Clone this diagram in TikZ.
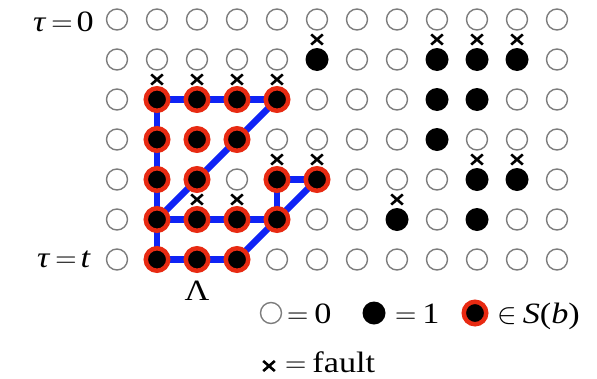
\documentclass[tikz,border=0pt]{standalone}
\usepackage{graphicx}
\usepackage{fontspec}
\setmainfont{Liberation Serif}[FakeStretch=1.16]
\newfontfamily\lmfont{Latin Modern Roman}
\usetikzlibrary{backgrounds,shapes.misc}
\definecolor{ringred}{RGB}{232,42,18}
\definecolor{lineblue}{RGB}{15,35,245}
\definecolor{emptygray}{RGB}{125,125,125}
\newcommand{\eqsign}{\hspace{5pt}{\lmfont =}\hspace{4pt}}
\newcommand{\eqlead}{{\lmfont =}\hspace{6pt}}
\begin{document}
\begin{tikzpicture}[x=1pt,y=-1pt,
  ste/.style={circle,draw=emptygray,line width=1.4pt,fill=white,minimum size=21pt,inner sep=0pt},
  sto/.style={circle,fill=black,minimum size=23pt,inner sep=0pt},
  sts/.style={circle,fill=black,draw=ringred,line width=4.5pt,minimum size=22.5pt,inner sep=0pt},
  fault/.style={cross out,draw=black,line width=2.6pt,minimum width=9pt,minimum height=7.5pt,inner sep=0pt},
  link/.style={draw=lineblue,line width=6.5pt},
  lbl/.style={font=\fontsize{29.5}{32}\selectfont,inner sep=0pt}
]
\useasboundingbox (0,0) rectangle (597,378);
% grid
\foreach \row [count=\r from 0] in {
  {e,e,e,e,e,e,e,e,e,e,e,e},
  {e,e,e,e,e,o,e,e,o,o,o,e},
  {e,s,s,s,s,e,e,e,o,o,e,e},
  {e,s,s,s,e,e,e,e,o,e,e,e},
  {e,s,s,e,s,s,e,e,e,o,o,e},
  {e,s,s,s,s,e,e,o,e,o,e,e},
  {e,s,s,s,e,e,e,e,e,e,e,e}} {
  \foreach \s [count=\c from 0] in \row {
    \node[st\s] (n-\c-\r) at ({117+40*\c},{19.5+40*\r}) {};
  }
}
% faults
\foreach \c/\r in {5/1,8/1,9/1,10/1,1/2,2/2,3/2,4/2,4/4,5/4,9/4,10/4,2/5,3/5,7/5} {
  \node[fault] (x-\c-\r) at ({117+40*\c},{19.5+40*\r-20}) {};
}
% links
\begin{scope}[on background layer]
\foreach \a/\b in {1-2/2-2,2-2/3-2,3-2/4-2,4-2/3-3,3-3/2-4,2-4/1-5,
  1-2/1-3,1-3/1-4,1-4/1-5,1-5/1-6,1-5/2-5,2-5/3-5,3-5/4-5,
  1-6/2-6,2-6/3-6,3-6/4-5,4-5/4-4,4-4/5-4,5-4/4-5} {
  \draw[link] (n-\a.center) -- (n-\b.center);
}
\end{scope}
% labels
\node[lbl,anchor=base east] (t0) at (94,31.5) {\textit{τ}\eqsign 0};
\node[lbl,anchor=base east] (tt) at (91,267) {\textit{τ}\eqsign\textit{t}};
\node[lbl,anchor=base] (lam) at (197,300) {Λ};
% legend
\node[ste] (le) at (271,313) {};
\node[lbl,anchor=base west] (l0) at (287,323) {\eqlead 0};
\node[sto] (lo) at (374,313) {};
\node[lbl,anchor=base west] (l1) at (395,323) {\eqlead 1};
\node[sts] (ls) at (475,313) {};
\node[lbl,anchor=base west] (lS) at (497,323) {\scalebox{1.18}{$\in$}\hspace{6pt}\textit{S}(\textit{b})};
\node[fault] (lx) at (269,366) {};
\node[lbl,anchor=base west] (lf) at (285,372) {\eqlead fault};
\end{tikzpicture}
\end{document}
